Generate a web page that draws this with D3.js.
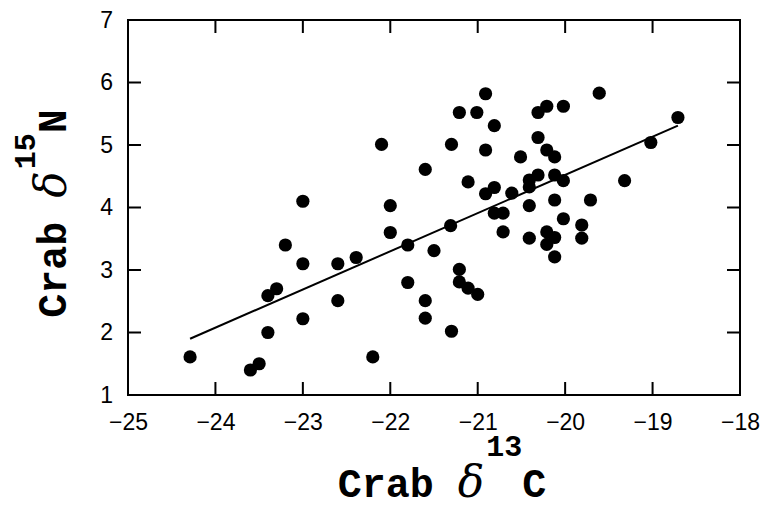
<!DOCTYPE html>
<html>
<head>
<meta charset="utf-8">
<script src="https://cdn.jsdelivr.net/npm/d3@7"></script>
<style>
  html, body { margin: 0; padding: 0; background: #fff; }
  svg { display: block; }
</style>
</head>
<body>
<svg id="chart" width="768" height="510"></svg>
<script>
// ---- data ----
const crabC13 = [
  -24.29, -23.60, -23.50, -23.40, -23.40, -23.30, -23.20, -23.00, -23.00, -23.00,
  -22.60, -22.60, -22.39, -22.20, -22.10, -22.00, -22.00, -21.80, -21.80, -21.60,
  -21.60, -21.60, -21.50, -21.30, -21.31, -21.30, -21.21, -21.21, -21.21, -21.11,
  -21.11, -21.01, -21.00, -20.91, -20.91, -20.91, -20.81, -20.81, -20.81, -20.71,
  -20.71, -20.61, -20.51, -20.41, -20.41, -20.41, -20.41, -20.31, -20.31, -20.31,
  -20.21, -20.21, -20.21, -20.21, -20.12, -20.12, -20.12, -20.12, -20.12, -20.02,
  -20.02, -20.02, -19.81, -19.81, -19.71, -19.61, -19.32, -19.02, -18.71
];
const crabN15 = [
  1.61, 1.40, 1.50, 2.00, 2.59, 2.70, 3.40, 4.10, 3.10, 2.22,
  3.10, 2.51, 3.20, 1.61, 5.01, 4.03, 3.60, 3.40, 2.80, 4.61,
  2.51, 2.23, 3.31, 5.01, 3.71, 2.02, 5.52, 3.01, 2.81, 4.41,
  2.71, 5.52, 2.61, 5.82, 4.92, 4.22, 5.31, 4.32, 3.91, 3.91,
  3.61, 4.23, 4.81, 4.44, 4.33, 4.03, 3.51, 5.52, 5.12, 4.52,
  5.62, 4.92, 3.61, 3.41, 4.81, 4.52, 4.12, 3.52, 3.21, 5.62,
  4.43, 3.82, 3.72, 3.51, 4.12, 5.83, 4.43, 5.04, 5.44
];
const fitC13 = [-24.29, -18.71];
const fitN15 = [1.90, 5.31];
const xTickValues = [-25, -24, -23, -22, -21, -20, -19, -18];
const yTickValues = [1, 2, 3, 4, 5, 6, 7];
const xDomain = [-25, -18];
const yDomain = [1, 7];

// ---- layout ----
const svg = d3.select("#chart");
const L = 128, R = 740, T = 20, B = 395;
const TICK = 13;

const x = d3.scaleLinear().domain(xDomain).range([L, R]);
const y = d3.scaleLinear().domain(yDomain).range([B, T]);
const fmt = d3.format("d");

const tickFont = "'Liberation Sans', Arial, Helvetica, sans-serif";
const titleFont = "'Liberation Mono', 'Courier New', Courier, monospace";

// tick labels via d3 axes
const gB = svg.append("g").attr("transform", `translate(0,${B})`)
  .call(d3.axisBottom(x).tickValues(xTickValues).tickFormat(fmt).tickSize(0).tickPadding(19));
const gL = svg.append("g").attr("transform", `translate(${L},0)`)
  .call(d3.axisLeft(y).tickValues(yTickValues).tickFormat(fmt).tickSize(0).tickPadding(15));
[gB, gL].forEach(g => {
  g.select(".domain").remove();
  g.selectAll(".tick line").remove();
  g.selectAll(".tick text").attr("fill", "#000")
    .style("font-family", tickFont).style("font-size", "23px");
});

// inward ticks on all four sides (one path)
const inner = v => v.slice(1, -1);
let dTicks = "";
inner(xTickValues).forEach(v => {
  const px = x(v);
  dTicks += `M${px},${B}V${B - TICK}M${px},${T}V${T + TICK}`;
});
inner(yTickValues).forEach(v => {
  const py = y(v);
  dTicks += `M${L},${py}H${L + TICK}M${R},${py}H${R - TICK}`;
});
svg.append("path")
  .attr("d", dTicks)
  .attr("fill", "none")
  .style("stroke", "#000")
  .style("stroke-width", "2px");

// frame
svg.append("rect")
  .attr("x", L).attr("y", T).attr("width", R - L).attr("height", B - T)
  .attr("fill", "none").style("stroke", "#000").style("stroke-width", "2px");

// regression line
svg.append("line")
  .attr("x1", x(fitC13[0])).attr("y1", y(fitN15[0]))
  .attr("x2", x(fitC13[1])).attr("y2", y(fitN15[1]))
  .style("stroke", "#000").style("stroke-width", "2px");

// points
svg.append("g").selectAll("circle")
  .data(crabC13.map((c, i) => [c, crabN15[i]]))
  .join("circle")
  .attr("cx", d => x(d[0])).attr("cy", d => y(d[1]))
  .attr("r", 6.6).attr("fill", "#000");

const deltaFont = "'DejaVu Serif', 'Liberation Serif', serif";

// x title
const xt = svg.append("text")
  .attr("x", (L + R) / 2 + 8).attr("y", 497)
  .attr("text-anchor", "middle")
  .style("font-family", titleFont).style("font-weight", "bold").style("font-size", "40px")
  .attr("fill", "#000");
xt.append("tspan").text("Crab ");
xt.append("tspan").text("δ").style("font-family", deltaFont).style("font-style", "italic").style("font-weight", "normal").style("font-size", "44px");
xt.append("tspan").text("13").attr("dy", -41).attr("dx", 2).style("font-size", "30px");
xt.append("tspan").text("C").attr("dy", 41).attr("dx", 0);

// y title
const yt = svg.append("text")
  .attr("transform", `translate(66,${(T + B) / 2 + 6}) rotate(-90)`)
  .attr("text-anchor", "middle")
  .style("font-family", titleFont).style("font-weight", "bold").style("font-size", "40px")
  .attr("fill", "#000");
yt.append("tspan").text("Crab ");
yt.append("tspan").text("δ").style("font-family", deltaFont).style("font-style", "italic").style("font-weight", "normal").style("font-size", "44px");
yt.append("tspan").text("15").attr("dy", -31).attr("dx", 2).style("font-size", "30px");
yt.append("tspan").text("N").attr("dy", 31).attr("dx", 0);
</script>
</body>
</html>
